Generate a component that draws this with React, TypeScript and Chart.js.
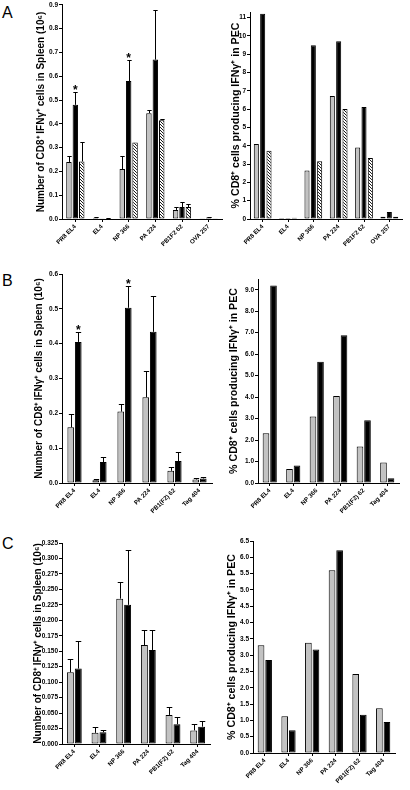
import React, { useEffect, useRef } from "react";
import { Chart, registerables } from "chart.js";

Chart.register(...registerables);

const FONT = '"Liberation Sans", Arial, Helvetica, sans-serif';

// ---------- categories ----------
const catsA = ["PR8 EL4", "EL4", "NP 366", "PA 224", "PB1F2 62", "OVA 257"];
const catsBC = ["PR8 EL4", "EL4", "NP 366", "PA 224", "PB1(F2) 62", "Tag 404"];

// ---------- panel A, spleen (10^6 cells); *Top = top of error bar ----------
const aSpleenGray = [0.24, 0.005, 0.21, 0.445, 0.038, 0.003];
const aSpleenGrayTop = [0.265, 0.007, 0.263, 0.458, 0.05, 0.004];
const aSpleenBlack = [0.48, 0.003, 0.58, 0.67, 0.05, 0.006];
const aSpleenBlackTop = [0.535, 0.004, 0.67, 0.88, 0.072, 0.008];
const aSpleenHatch = [0.242, 0.002, 0.322, 0.415, 0.05, 0.003];
const aSpleenHatchTop = [0.322, 0.003, 0.322, 0.42, 0.065, 0.004];
const aSpleenStars = [0, 2];

// ---------- panel A, PEC (%) ----------
const aPecGray = [4.1, 0.05, 2.65, 6.72, 3.9, 0.12];
const aPecBlack = [11.2, 0.05, 9.48, 9.7, 6.12, 0.38];
const aPecHatch = [3.72, 0.07, 3.15, 6.0, 3.33, 0.12];

// ---------- panel B, spleen ----------
const bSpleenGray = [0.16, 0.008, 0.205, 0.246, 0.035, 0.01];
const bSpleenGrayTop = [0.198, 0.012, 0.226, 0.322, 0.047, 0.013];
const bSpleenBlack = [0.405, 0.06, 0.503, 0.434, 0.063, 0.013];
const bSpleenBlackTop = [0.433, 0.075, 0.566, 0.538, 0.088, 0.016];
const bSpleenStars = [0, 2];

// ---------- panel B, PEC ----------
const bPecGray = [2.32, 0.65, 3.1, 4.05, 1.7, 0.95];
const bPecBlack = [9.2, 0.82, 5.65, 6.88, 2.92, 0.22];

// ---------- panel C, spleen ----------
const cSpleenGray = [0.116, 0.018, 0.235, 0.16, 0.047, 0.022];
const cSpleenGrayTop = [0.137, 0.027, 0.262, 0.185, 0.06, 0.032];
const cSpleenBlack = [0.122, 0.019, 0.225, 0.152, 0.032, 0.028];
const cSpleenBlackTop = [0.167, 0.023, 0.313, 0.185, 0.043, 0.037];

// ---------- panel C, PEC ----------
const cPecGray = [3.3, 1.13, 3.38, 5.6, 2.42, 1.37];
const cPecBlack = [2.85, 0.7, 3.17, 6.22, 1.17, 0.95];

const spleenTitle = "Number of CD8\u207A IFN\u03B3\u207A cells in Spleen (10\u2076)";
const pecTitle = "% CD8\u207A cells producing IFN\u03B3\u207A in PEC";

type Kind = "gray" | "black" | "hatch";
interface Series {
  data: number[];
  kind: Kind;
  tops?: number[];
}
interface PanelProps {
  left: number;
  top: number;
  width: number;
  height: number;
  padLeft: number;
  padTop: number;
  padRight: number;
  yw: number;
  xh: number;
  labels: string[];
  series: Series[];
  yMax: number;
  yStep: number;
  decimals: number;
  title: string;
  titleSize: number;
  stars?: { ds: number; idx: number[] };
  catPct: number;
  barPct: number;
}

function makeHatch(): CanvasPattern | string {
  const c = document.createElement("canvas");
  c.width = 3;
  c.height = 3;
  const g = c.getContext("2d");
  if (!g) return "#fff";
  g.fillStyle = "#fff";
  g.fillRect(0, 0, 3, 3);
  g.strokeStyle = "#000";
  g.lineWidth = 0.9;
  g.beginPath();
  g.moveTo(-1, -1);
  g.lineTo(4, 4);
  g.moveTo(-1, 2);
  g.lineTo(1, 4);
  g.moveTo(2, -1);
  g.lineTo(4, 1);
  g.stroke();
  return g.createPattern(c, "repeat") ?? "#fff";
}

const errPlugin = {
  id: "errBars",
  afterDatasetsDraw(chart: any, _args: any, opts: any) {
    const ctx: CanvasRenderingContext2D = chart.ctx;
    const ys = chart.scales.y;
    const tops: (number[] | undefined)[] = opts.tops || [];
    ctx.save();
    ctx.strokeStyle = "#000";
    ctx.lineWidth = 1;
    tops.forEach((arr, di) => {
      if (!arr) return;
      const meta = chart.getDatasetMeta(di);
      meta.data.forEach((el: any, j: number) => {
        const v = arr[j];
        if (v == null) return;
        const py = Math.round(ys.getPixelForValue(v)) + 0.5;
        if (py >= el.y) return;
        const x = Math.round(el.x) + 0.5;
        const half = Math.max(1.5, el.width * 0.4);
        ctx.beginPath();
        ctx.moveTo(x, el.y);
        ctx.lineTo(x, py);
        ctx.moveTo(x - half, py);
        ctx.lineTo(x + half, py);
        ctx.stroke();
      });
    });
    const st = opts.stars;
    if (st) {
      ctx.fillStyle = "#000";
      ctx.font = `bold 12px ${FONT}`;
      ctx.textAlign = "center";
      ctx.textBaseline = "alphabetic";
      const meta = chart.getDatasetMeta(st.ds);
      const ds = chart.data.datasets[st.ds].data as number[];
      st.idx.forEach((j: number) => {
        const el: any = meta.data[j];
        const v = tops[st.ds]?.[j] ?? ds[j];
        ctx.fillText("*", el.x, ys.getPixelForValue(v) + 2);
      });
    }
    ctx.restore();
  },
};

function Panel(p: PanelProps) {
  const ref = useRef<HTMLCanvasElement | null>(null);
  useEffect(() => {
    if (!ref.current) return;
    const hatch = makeHatch();
    const fill = (k: Kind) => (k === "gray" ? "#c2c2c2" : k === "black" ? "#000000" : hatch);
    const tickFont = { family: FONT, size: 6.5, weight: "bold" as const };
    const chart = new Chart(ref.current, {
      type: "bar",
      data: {
        labels: p.labels,
        datasets: p.series.map((s) => ({
          data: s.data,
          backgroundColor: fill(s.kind) as any,
          borderColor: "#000",
          borderWidth: 1,
          borderSkipped: false,
          categoryPercentage: p.catPct,
          barPercentage: p.barPct,
        })),
      },
      options: {
        animation: false,
        responsive: false,
        maintainAspectRatio: false,
        devicePixelRatio: 1,
        events: [],
        layout: { padding: { left: p.padLeft, top: p.padTop, right: p.padRight, bottom: 0 } },
        plugins: {
          legend: { display: false },
          tooltip: { enabled: false },
          errBars: { tops: p.series.map((s) => s.tops), stars: p.stars },
        } as any,
        scales: {
          x: {
            offset: true,
            grid: {
              display: true,
              drawOnChartArea: false,
              drawTicks: true,
              tickLength: 3,
              color: "#000",
              lineWidth: 1,
              offset: false,
            },
            border: { display: true, color: "#000", width: 1 },
            ticks: {
              font: { family: FONT, size: 6.2, weight: "bold" },
              color: "#000",
              maxRotation: 45,
              minRotation: 45,
              padding: 1,
              autoSkip: false,
            },
            afterFit: (s: any) => {
              s.height = p.xh;
            },
          },
          y: {
            min: 0,
            max: p.yMax,
            grid: {
              display: true,
              drawOnChartArea: false,
              drawTicks: true,
              tickLength: 3,
              color: "#000",
              lineWidth: 1,
            },
            border: { display: true, color: "#000", width: 1 },
            ticks: {
              stepSize: p.yStep,
              includeBounds: false,
              font: tickFont,
              color: "#000",
              padding: 1,
              callback: (v: any) => Number(v).toFixed(p.decimals),
            },
            title: {
              display: true,
              text: p.title,
              font: { family: FONT, size: p.titleSize, weight: "bold" },
              color: "#000",
              padding: 0,
            },
            afterFit: (s: any) => {
              s.width = p.yw;
            },
          },
        },
      },
      plugins: [errPlugin as any],
    });
    return () => chart.destroy();
  }, []);
  return (
    <canvas
      ref={ref}
      width={p.width}
      height={p.height}
      style={{ position: "absolute", left: p.left, top: p.top, width: p.width, height: p.height }}
    />
  );
}

const letterStyle = (left: number, top: number): React.CSSProperties => ({
  position: "absolute",
  left,
  top,
  fontFamily: FONT,
  fontSize: 16,
  lineHeight: 1,
  color: "#000",
});

export default function App() {
  return (
    <div style={{ position: "absolute", left: 0, top: 0, width: 410, height: 790, background: "#fff", overflow: "hidden" }}>
      <div style={letterStyle(2, 5)}>A</div>
      <div style={letterStyle(2, 273)}>B</div>
      <div style={letterStyle(2, 536)}>C</div>

      <Panel
        left={0} top={0} width={224} height={257}
        padLeft={35} padTop={4} padRight={2} yw={27} xh={38}
        labels={catsA}
        series={[
          { data: aSpleenGray, kind: "gray", tops: aSpleenGrayTop },
          { data: aSpleenBlack, kind: "black", tops: aSpleenBlackTop },
          { data: aSpleenHatch, kind: "hatch", tops: aSpleenHatchTop },
        ]}
        yMax={0.9} yStep={0.1} decimals={1}
        title={spleenTitle} titleSize={10}
        stars={{ ds: 1, idx: aSpleenStars }}
        catPct={0.72} barPct={0.85}
      />
      <Panel
        left={222} top={0} width={184} height={257}
        padLeft={8} padTop={12} padRight={4} yw={20} xh={38}
        labels={catsA}
        series={[
          { data: aPecGray, kind: "gray" },
          { data: aPecBlack, kind: "black" },
          { data: aPecHatch, kind: "hatch" },
        ]}
        yMax={11.3} yStep={1} decimals={0}
        title={pecTitle} titleSize={10.6}
        catPct={0.75} barPct={0.8}
      />
      <Panel
        left={0} top={262} width={214} height={259}
        padLeft={33} padTop={12} padRight={2} yw={29} xh={38}
        labels={catsBC}
        series={[
          { data: bSpleenGray, kind: "gray", tops: bSpleenGrayTop },
          { data: bSpleenBlack, kind: "black", tops: bSpleenBlackTop },
        ]}
        yMax={0.6} yStep={0.1} decimals={1}
        title={spleenTitle} titleSize={10}
        stars={{ ds: 1, idx: bSpleenStars }}
        catPct={0.6} barPct={0.89}
      />
      <Panel
        left={222} top={262} width={181} height={259}
        padLeft={6} padTop={17} padRight={4} yw={30} xh={38}
        labels={catsBC}
        series={[
          { data: bPecGray, kind: "gray" },
          { data: bPecBlack, kind: "black" },
        ]}
        yMax={9.5} yStep={0.5} decimals={1}
        title={pecTitle} titleSize={10.6}
        catPct={0.64} barPct={0.88}
      />
      <Panel
        left={0} top={527} width={212} height={257}
        padLeft={32} padTop={16} padRight={2} yw={30} xh={40}
        labels={catsBC}
        series={[
          { data: cSpleenGray, kind: "gray", tops: cSpleenGrayTop },
          { data: cSpleenBlack, kind: "black", tops: cSpleenBlackTop },
        ]}
        yMax={0.325} yStep={0.025} decimals={3}
        title={spleenTitle} titleSize={10}
        catPct={0.64} barPct={0.88}
      />
      <Panel
        left={222} top={527} width={177} height={263}
        padLeft={4} padTop={14} padRight={4} yw={27} xh={37}
        labels={catsBC}
        series={[
          { data: cPecGray, kind: "gray" },
          { data: cPecBlack, kind: "black" },
        ]}
        yMax={6.5} yStep={0.5} decimals={1}
        title={pecTitle} titleSize={10.6}
        catPct={0.64} barPct={0.88}
      />
    </div>
  );
}
